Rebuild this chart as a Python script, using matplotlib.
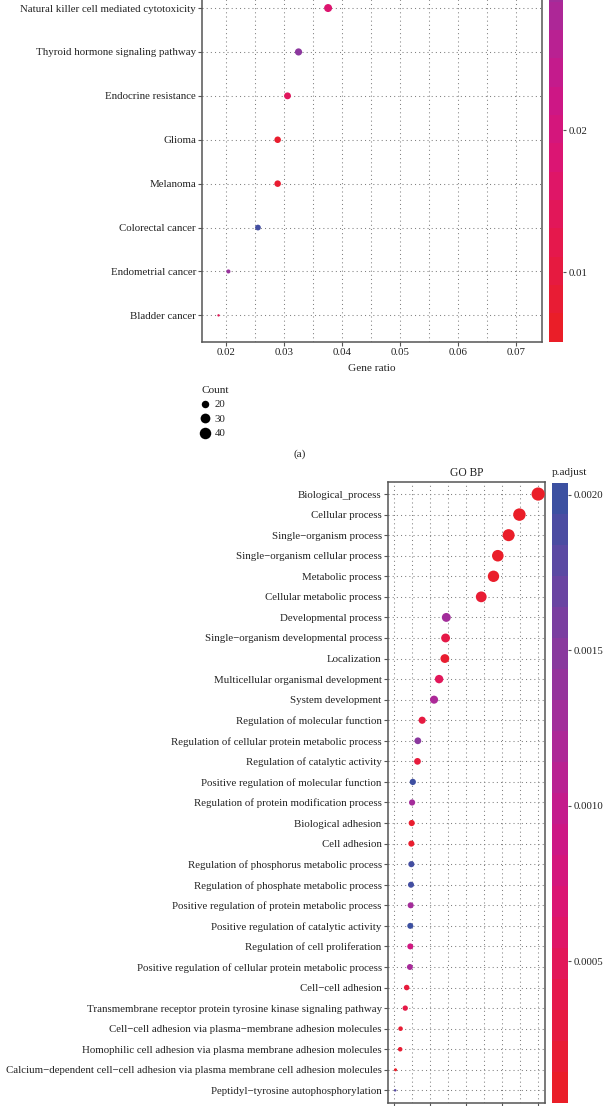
import numpy as np
import matplotlib
matplotlib.use("Agg")
import matplotlib.pyplot as plt
from matplotlib.colors import LinearSegmentedColormap, Normalize
from matplotlib.cm import ScalarMappable
from matplotlib.lines import Line2D
from matplotlib.ticker import MultipleLocator, FormatStrFormatter, NullFormatter

plt.rcParams['font.family'] = ['Liberation Serif', 'DejaVu Serif']
M = '\u2212'

# ---- panel (a): KEGG (top rows are cut off in the reference) ----
kegg_terms = ["Natural killer cell mediated cytotoxicity",
              "Thyroid hormone signaling pathway",
              "Endocrine resistance", "Glioma", "Melanoma",
              "Colorectal cancer", "Endometrial cancer", "Bladder cancer"]
kegg_ratio = [0.0376, 0.0325, 0.0306, 0.0289, 0.0289, 0.0255, 0.0204, 0.0187]
kegg_count = [22, 19, 18, 17, 17, 15, 12, 11]
kegg_padj = [0.0168, 0.0340, 0.0140, 0.0062, 0.0068, 0.0440, 0.0320, 0.0132]
kegg_ticks = [0.02, 0.03, 0.04, 0.05, 0.06, 0.07]
kegg_xlim = (0.0159, 0.0745)
kegg_count_range = (11, 42)
kegg_padj_range = (0.0051, 0.045)
kegg_padj_ticks = [0.01, 0.02]
count_breaks = [20, 30, 40]

# ---- panel (b): GO BP ----
bp_terms = ["Biological_process", "Cellular process",
            f"Single{M}organism process", f"Single{M}organism cellular process",
            "Metabolic process", "Cellular metabolic process",
            "Developmental process", f"Single{M}organism developmental process",
            "Localization", "Multicellular organismal development",
            "System development", "Regulation of molecular function",
            "Regulation of cellular protein metabolic process",
            "Regulation of catalytic activity",
            "Positive regulation of molecular function",
            "Regulation of protein modification process",
            "Biological adhesion", "Cell adhesion",
            "Regulation of phosphorus metabolic process",
            "Regulation of phosphate metabolic process",
            "Positive regulation of protein metabolic process",
            "Positive regulation of catalytic activity",
            "Regulation of cell proliferation",
            "Positive regulation of cellular protein metabolic process",
            f"Cell{M}cell adhesion",
            "Transmembrane receptor protein tyrosine kinase signaling pathway",
            f"Cell{M}cell adhesion via plasma{M}membrane adhesion molecules",
            "Homophilic cell adhesion via plasma membrane adhesion molecules",
            f"Calcium{M}dependent cell{M}cell adhesion via plasma membrane cell adhesion molecules",
            f"Peptidyl{M}tyrosine autophosphorylation"]
bp_ratio = [0.800, 0.696, 0.636, 0.576, 0.552, 0.484, 0.290, 0.286, 0.282, 0.250,
            0.222, 0.156, 0.132, 0.130, 0.104, 0.100, 0.098, 0.096, 0.096, 0.094,
            0.092, 0.090, 0.090, 0.088, 0.070, 0.062, 0.036, 0.034, 0.008, 0.006]
bp_count = [400, 348, 318, 288, 276, 242, 145, 143, 141, 125,
            111, 78, 66, 65, 52, 50, 49, 48, 48, 47,
            46, 45, 45, 44, 35, 31, 18, 17, 4, 3]
bp_padj = [0.00005, 0.00005, 0.00006, 0.00006, 0.00007, 0.00016, 0.00130, 0.00032,
           0.00012, 0.00047, 0.00122, 0.00026, 0.00150, 0.00022, 0.00201, 0.00128,
           0.00010, 0.00010, 0.00199, 0.00199, 0.00128, 0.00204, 0.00083, 0.00126,
           0.00022, 0.00032, 0.00014, 0.00014, 0.000045, 0.00186]
bp_ticks = [0.0, 0.2, 0.4, 0.6, 0.8]
bp_padj_ticks = [0.0005, 0.0010, 0.0015, 0.0020]

W, H = 604, 1106
cmap = LinearSegmentedColormap.from_list("padj", [
    (0.00, '#EA1E28'), (0.15, '#E5184A'), (0.30, '#DD1570'),
    (0.45, '#C9188A'), (0.60, '#A92A99'), (0.75, '#863A9F'),
    (0.88, '#5F48A3'), (1.00, '#3C50A1')])
GRID = '#808080'
SPINE = '#555555'
TXT = '#222222'
FS = 7.8


def box(l, t, r, b):
    return [l / W, 1 - b / H, (r - l) / W, (b - t) / H]


def diam_to_s(d):
    return (np.asarray(d) * 72.0 / 100.0) ** 2


def diam(c, crange, dmin, dmax):
    c = np.asarray(c, dtype=float)
    return dmin + (dmax - dmin) * np.sqrt((c - crange[0]) / (crange[1] - crange[0]))


def dotplot(ax, terms, ratio, sizes, padj, norm):
    y = np.arange(len(terms))[::-1]
    ax.scatter(ratio, y, s=sizes, c=padj, cmap=cmap, norm=norm,
               edgecolors='none', zorder=3)
    ax.set_yticks(y)
    ax.set_yticklabels(terms)
    ax.set_ylim(-0.6, len(terms) - 0.4)
    ax.set_axisbelow(True)
    ax.grid(which='major', axis='both', ls=(0, (1, 3)), color=GRID, lw=0.75)
    ax.grid(which='minor', axis='x', ls=(0, (1, 3)), color=GRID, lw=0.75)
    for sp in ax.spines.values():
        sp.set_color(SPINE)
        sp.set_linewidth(1.1)
    ax.tick_params(which='major', length=3, width=0.8, color=SPINE,
                   labelsize=FS, labelcolor=TXT, pad=1.5)
    ax.tick_params(which='minor', length=0)


def colorbar(fig, rect, norm, ticks, fmt):
    cax = fig.add_axes(rect)
    cb = fig.colorbar(ScalarMappable(norm=norm, cmap=cmap.resampled(20)), cax=cax)
    cb.outline.set_visible(False)
    cb.set_ticks(ticks)
    cax.yaxis.set_major_formatter(FormatStrFormatter(fmt))
    cax.tick_params(length=2.5, width=0.8, color=SPINE, labelsize=FS,
                    labelcolor=TXT, pad=1.2)
    return cb


fig = plt.figure(figsize=(W / 100, H / 100), dpi=100)

# panel (a)
ax1 = fig.add_axes(box(202.3, -18.3, 542, 341.7))
norm1 = Normalize(*kegg_padj_range)
s1 = diam_to_s(diam(kegg_count, kegg_count_range, 2.4, 11.8))
dotplot(ax1, kegg_terms, kegg_ratio, s1, kegg_padj, norm1)
ax1.set_xlim(*kegg_xlim)
ax1.set_xticks(kegg_ticks)
ax1.xaxis.set_major_formatter(FormatStrFormatter('%.2f'))
ax1.xaxis.set_minor_locator(MultipleLocator(0.005))
fig.text(372 / W, 1 - 368 / H, "Gene ratio", ha='center', va='center',
         fontsize=FS + 0.3, color=TXT)
colorbar(fig, box(549, -225, 563, 341.7), norm1, kegg_padj_ticks, '%.2f')

handles = [Line2D([], [], ls='none', marker='o', color='black', mec='none',
                  markersize=float(diam(c, kegg_count_range, 2.4, 11.8)) * 0.72)
           for c in count_breaks]
leg = ax1.legend(handles, [str(c) for c in count_breaks], title="Count",
                 loc='upper left', bbox_to_anchor=(201 / W, 1 - 386 / H),
                 bbox_transform=fig.transFigure, frameon=False, alignment='left',
                 fontsize=FS, title_fontsize=FS + 0.3, handlelength=0.8,
                 handletextpad=0.45, labelspacing=0.45, borderpad=0,
                 borderaxespad=0)
for t in leg.get_texts():
    t.set_color(TXT)
leg.get_title().set_color(TXT)

fig.text(300 / W, 1 - 454 / H, "(a)", ha='center', va='center',
         fontsize=FS + 0.3, color=TXT)

# panel (b)
ax2 = fig.add_axes(box(388, 481.7, 545.3, 1102.7))
norm2 = Normalize(min(bp_padj), max(bp_padj))
s2 = diam_to_s(diam(bp_count, (min(bp_count), max(bp_count)), 2.5, 13.2))
dotplot(ax2, bp_terms, bp_ratio, s2, bp_padj, norm2)
r = max(bp_ratio) - min(bp_ratio)
ax2.set_xlim(min(bp_ratio) - 0.05 * r, max(bp_ratio) + 0.05 * r)
ax2.set_xticks(bp_ticks)
ax2.xaxis.set_major_formatter(NullFormatter())  # labels fall below the crop
ax2.xaxis.set_minor_locator(MultipleLocator(0.1))
fig.text(466.7 / W, 1 - 472.7 / H, "GO BP", ha='center', va='center',
         fontsize=FS + 0.5, color=TXT)
fig.text(552 / W, 1 - 472.7 / H, "p.adjust", ha='left', va='center',
         fontsize=FS + 0.3, color=TXT)
colorbar(fig, box(551.7, 482.5, 568.3, 1102.7), norm2, bp_padj_ticks, '%.4f')

fig.savefig("out.png", dpi=100)
